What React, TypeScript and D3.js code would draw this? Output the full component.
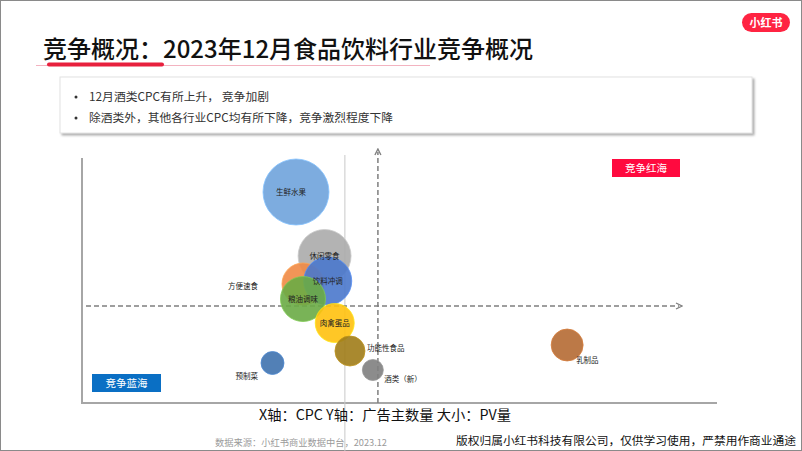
import React from "react";
import * as d3 from "d3";

const categories = ["生鲜水果", "休闲零食", "方便速食", "饮料冲调", "粮油调味", "肉禽蛋品", "功能性食品", "酒类（新）", "预制菜", "乳制品"];
const cpcValues = [33.7, 38.2, 34.8, 38.7, 34.8, 39.8, 42.2, 45.8, 30.0, 76.4];
const advertiserValues = [84.4, 58.8, 47.6, 48.8, 41.6, 32.0, 20.8, 13.2, 16.0, 23.2];
const pvValues = [100, 64.5, 40.5, 52.9, 46.5, 34.9, 20.7, 10.1, 12.1, 23.5];
const colors = ["#6FA3DC", "#ABABAB", "#F08A45", "#4A78CC", "#6AAB45", "#FFC10E", "#A07C18", "#7F7F7F", "#3F72AE", "#B56A33"];
const labelInside = [true, true, false, true, true, true, false, false, false, false];
const bullets = ["12月酒类CPC有所上升， 竞争加剧", "除酒类外，其他各行业CPC均有所下降，竞争激烈程度下降"];
const bulletWidths = [180, 304];
const cpcRef = 46.6;
const advRef = 38.8;
const cpcPrev = 41.4;

const FONT = "'Noto Sans CJK SC', 'Noto Sans', sans-serif";

export default function App() {
  const W = 802, H = 451;
  const x = d3.scaleLinear().domain([0, 100]).range([82, 717]);
  const y = d3.scaleLinear().domain([0, 100]).range([403, 153]);
  const r = d3.scaleSqrt().domain([0, 100]).range([0, 33]);

  const data = categories.map((c, i) => ({
    name: c, cx: x(cpcValues[i]), cy: y(advertiserValues[i]), r: r(pvValues[i]), color: colors[i], inside: labelInside[i],
  }));

  const outsideLabel = (d: any) => {
    if (d.name === "方便速食") return { x: d.cx - d.r - 24, y: d.cy + 5, anchor: "end" };
    if (d.name === "功能性食品") return { x: d.cx + d.r + 2, y: d.cy + 0, anchor: "start" };
    if (d.name === "酒类（新）") return { x: d.cx + d.r + 1, y: d.cy + 12, anchor: "start" };
    if (d.name === "预制菜") return { x: d.cx - d.r - 3, y: d.cy + 16, anchor: "end" };
    return { x: d.cx + d.r - 7, y: d.cy + 18, anchor: "start" };
  };

  return (
    <svg width={W} height={H} style={{ position: "absolute", left: 0, top: 0, background: "#fff" }} fontFamily={FONT}>
      <defs>
        <marker id="arr" viewBox="0 0 10 10" refX="5" refY="5" markerWidth="5" markerHeight="5" orient="auto">
          <path d="M1,1 L9,5 L1,9" fill="none" stroke="#7f7f7f" strokeWidth="1.8" />
        </marker>
        <filter id="sh" x="-5%" y="-20%" width="110%" height="150%">
          <feDropShadow dx="2" dy="2" stdDeviation="1.2" floodColor="#777" floodOpacity="0.6" />
        </filter>
      </defs>
      <rect x={0.5} y={0.5} width={W - 1} height={H - 1} fill="#fff" stroke="#8a8a8a" />

      {/* title */}
      <text x={43} y={58} fontSize={24} fontWeight={500} fill="#111">竞争概况：2023年12月食品饮料行业竞争概况</text>
      <line x1={36} x2={430} y1={65.5} y2={65.5} stroke="#f3b3c0" strokeWidth={1} />
      <line x1={49} x2={162} y1={64.5} y2={64.5} stroke="#e8203d" strokeWidth={4} strokeLinecap="round" />

      {/* logo */}
      <rect x={742} y={13} width={48} height={19} rx={9.5} fill="#ff2442" />
      <text x={766} y={26.5} fontSize={11} fontWeight={700} fill="#fff" textAnchor="middle">小红书</text>

      {/* info box */}
      <rect x={60} y={77} width={692} height={56} fill="#fff" stroke="#e2e2e2" filter="url(#sh)" />
      {bullets.map((b, i) => (
        <g key={b}>
          <circle cx={76} cy={97 + i * 21} r={1.5} fill="#333" />
          <text x={89} y={101 + i * 21} fontSize={11.5} fill="#333" textLength={bulletWidths[i]} lengthAdjust="spacingAndGlyphs">{b}</text>
        </g>
      ))}

      {/* frame axes */}
      <line x1={82} x2={82} y1={158} y2={404} stroke="#a6a6a6" strokeWidth={2} />
      <line x1={81} x2={717} y1={403} y2={403} stroke="#a6a6a6" strokeWidth={2} />
      <line x1={x(cpcPrev)} x2={x(cpcPrev)} y1={155} y2={451} stroke="#c8c8c8" strokeWidth={1} />

      {/* dashed reference lines */}
      <line x1={x(cpcRef)} x2={x(cpcRef)} y1={403} y2={152} stroke="#7f7f7f" strokeWidth={1.5} strokeDasharray="5,3" markerEnd="url(#arr)" />
      <line x1={86} x2={679} y1={y(advRef)} y2={y(advRef)} stroke="#7f7f7f" strokeWidth={1.5} strokeDasharray="5,3" markerEnd="url(#arr)" />

      {/* bubbles */}
      {data.map((d) => (
        <circle key={d.name} cx={d.cx} cy={d.cy} r={d.r} fill={d.color} fillOpacity={0.9} stroke={d3.color(d.color)!.brighter(0.5).toString()} strokeWidth={0.8} />
      ))}
      {data.map((d) => {
        if (d.inside) {
          return <text key={d.name} x={d.cx - (d.name === "生鲜水果" ? 5 : 0)} y={d.cy + 2.5} fontSize={7.5} fill="#222" textAnchor="middle">{d.name}</text>;
        }
        const p = outsideLabel(d);
        return <text key={d.name} x={p.x} y={p.y} fontSize={7.5} fill="#222" textAnchor={p.anchor as any}>{d.name}</text>;
      })}

      {/* quadrant tags */}
      <rect x={612} y={159} width={68} height={18} fill="#ff0a3f" />
      <text x={646} y={172} fontSize={10.5} fill="#fff" textAnchor="middle">竞争红海</text>
      <rect x={92} y={374} width={69} height={18} fill="#0a6fc4" />
      <text x={126.5} y={387} fontSize={10.5} fill="#fff" textAnchor="middle">竞争蓝海</text>

      {/* caption & footer */}
      <text x={259} y={420} fontSize={14} fill="#111" textLength={252} lengthAdjust="spacingAndGlyphs">X轴：CPC Y轴：广告主数量 大小：PV量</text>
      <text x={215} y={446} fontSize={9} fill="#9a9a9a" textLength={172} lengthAdjust="spacingAndGlyphs">数据来源：小红书商业数据中台，2023.12</text>
      <text x={456} y={445} fontSize={11.5} fill="#111" textLength={340} lengthAdjust="spacingAndGlyphs">版权归属小红书科技有限公司，仅供学习使用，严禁用作商业通途</text>
    </svg>
  );
}
